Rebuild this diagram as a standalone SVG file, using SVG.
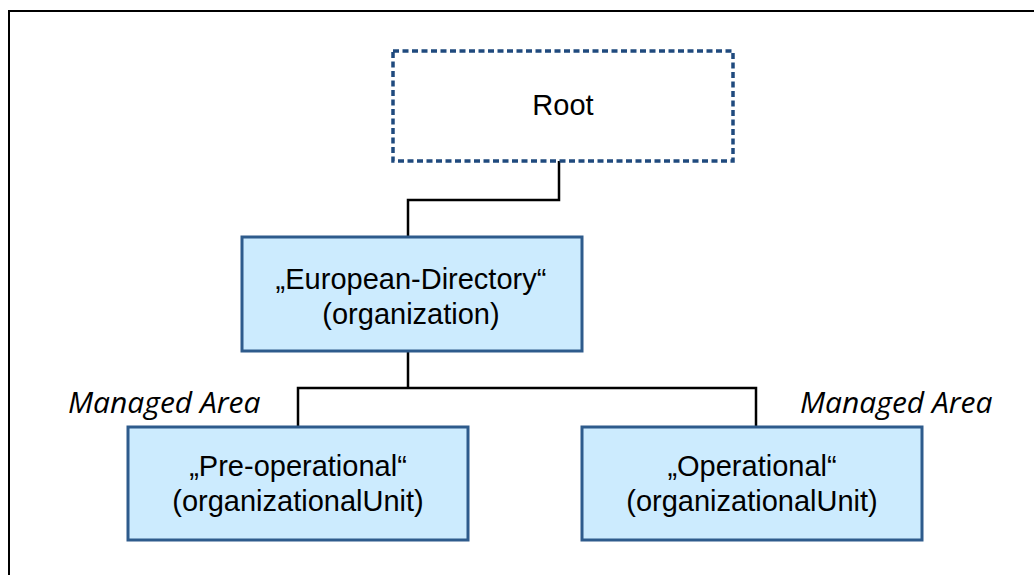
<svg xmlns="http://www.w3.org/2000/svg" width="1034" height="575" viewBox="0 0 1034 575">
<style>
.box{fill:#CCEBFE;stroke:#2E5B8C;stroke-width:3}
.root{fill:#fff;stroke:#1F4A7E;stroke-width:3.5;stroke-dasharray:6 3.5}
.t{font-family:"Liberation Sans",Arial,sans-serif;font-size:29px;fill:#000;text-anchor:middle}
.lbl{font-family:"Open Sans","Noto Sans",sans-serif;font-style:italic;font-size:30px;fill:#000}
.c{fill:none;stroke:#000;stroke-width:2.5}
</style>
<rect width="1034" height="575" fill="#fff"/>
<path d="M9 575 V11 H1034" fill="none" stroke="#000" stroke-width="2"/>
<g id="connectors">
<path class="c" d="M559 161 V200 H408 V237"/>
<path class="c" d="M408 351 V388 M298 427 V388 H756 V427"/>
</g>
<g id="root">
<rect class="root" x="393" y="51" width="340" height="110"/>
<text class="t" x="563" y="115">Root</text>
</g>
<g id="european">
<rect class="box" x="242" y="237" width="340" height="114"/>
<text class="t" x="411" y="289">„European-Directory“</text>
<text class="t" x="411" y="324">(organization)</text>
</g>
<g id="preop">
<rect class="box" x="128" y="427" width="340" height="113"/>
<text class="t" x="298" y="476">„Pre-operational“</text>
<text class="t" x="298" y="511">(organizationalUnit)</text>
</g>
<g id="op">
<rect class="box" x="582" y="427" width="340" height="113"/>
<text class="t" x="752" y="476">„Operational“</text>
<text class="t" x="752" y="511">(organizationalUnit)</text>
</g>
<text class="lbl" x="68" y="413">Managed Area</text>
<text class="lbl" x="800" y="413">Managed Area</text>
</svg>
